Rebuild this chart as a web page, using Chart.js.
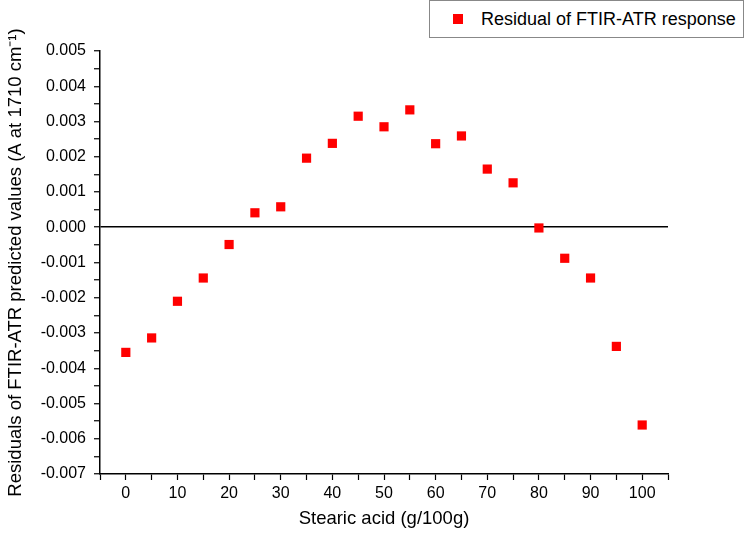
<!DOCTYPE html>
<html>
<head>
<meta charset="utf-8">
<script src="https://cdn.jsdelivr.net/npm/chart.js@4.4.1/dist/chart.umd.min.js"></script>
<style>
  body { margin: 0; background: #fff; }
  #wrap { position: relative; width: 750px; height: 534px; }
  #legend {
    position: absolute; left: 429px; top: 0px; width: 315px; height: 38px;
    border: 1px solid #888; background: #fff; box-sizing: border-box;
    font-family: "Liberation Sans", Arial, sans-serif; font-size: 18px; color: #000;
    display: flex; align-items: center;
  }
  #legend .mark { display: inline-block; width: 10px; height: 10px; background: #ff0000; margin-left: 23px; margin-right: 18px; }
</style>
</head>
<body>
<div id="wrap">
  <canvas id="residualChart"></canvas>
  <div id="legend"><span class="mark"></span><span>Residual of FTIR-ATR response</span></div>
</div>
<script>
// stearic acid content (g/100g)
const stearicAcid = [0, 5, 10, 15, 20, 25, 30, 35, 40, 45, 50, 55, 60, 65, 70, 75, 80, 85, 90, 95, 100];
// residuals
const residuals = [-0.00355, -0.00314, -0.00210, -0.00144, -0.00049, 0.00041, 0.00058, 0.00196, 0.00238, 0.00315,
                   0.00285, 0.00333, 0.00237, 0.00259, 0.00165, 0.00126, -0.00002, -0.00088, -0.00144, -0.00338, -0.00561];

const xLabels = [0, 10, 20, 30, 40, 50, 60, 70, 80, 90, 100];
const yLabels = [-0.007, -0.006, -0.005, -0.004, -0.003, -0.002, -0.001, 0, 0.001, 0.002, 0.003, 0.004, 0.005];

const points = stearicAcid.map((x, i) => ({ x: x, y: residuals[i] }));

const font = "'Liberation Sans', Arial, sans-serif";

function isLabel(list, v) {
    return list.some(l => Math.abs(l - v) < 1e-9);
}

const ctx = document.getElementById('residualChart').getContext('2d');
const residualChart = new Chart(ctx, {
    type: 'scatter',
    data: {
        datasets: [{
            label: 'Residual of FTIR-ATR response',
            data: points,
            pointStyle: 'rect',
            pointRadius: 6.5,
            pointHoverRadius: 6.5,
            backgroundColor: '#ff0000',
            borderWidth: 0
        }]
    },
    options: {
        responsive: true,
        maintainAspectRatio: false,
        animation: false,
        layout: {
            padding: { top: 51, right: 82, left: 1, bottom: 0 }
        },
        plugins: {
            legend: { display: false },
            tooltip: { enabled: false }
        },
        scales: {
            x: {
                type: 'linear',
                min: -5,
                max: 105,
                afterFit: function (scale) { scale.height = 60; },
                border: { color: '#000', width: 1.5 },
                grid: { drawOnChartArea: false, tickLength: 6, tickColor: '#000', tickWidth: 1.2 },
                ticks: {
                    stepSize: 5,
                    autoSkip: false,
                    maxRotation: 0,
                    color: '#000',
                    padding: 4,
                    font: { family: font, size: 16 },
                    callback: function (v) { return isLabel(xLabels, v) ? String(v) : ''; }
                },
                title: {
                    display: true,
                    text: 'Stearic acid (g/100g)',
                    color: '#000',
                    font: { family: font, size: 18.5 },
                    padding: { top: 7 }
                }
            },
            y: {
                min: -0.007,
                max: 0.005,
                afterFit: function (scale) { scale.width = 99; },
                border: { color: '#000', width: 1.5 },
                grid: {
                    drawOnChartArea: true,
                    tickLength: 6,
                    tickColor: '#000',
                    tickWidth: 1.2,
                    lineWidth: 1.5,
                    color: function (c) {
                        return c.tick && Math.abs(c.tick.value) < 1e-9 ? '#000' : 'rgba(0,0,0,0)';
                    }
                },
                ticks: {
                    stepSize: 0.0005,
                    autoSkip: false,
                    color: '#000',
                    padding: 8,
                    font: { family: font, size: 16 },
                    callback: function (v) { return isLabel(yLabels, v) ? v.toFixed(3) : ''; }
                },
                title: {
                    display: true,
                    text: 'Residuals of FTIR-ATR predicted values (A at 1710 cm\u207B\u00B9)',
                    color: '#000',
                    font: { family: font, size: 18.5 },
                    padding: { bottom: 2 }
                }
            }
        }
    }
});
</script>
</body>
</html>
